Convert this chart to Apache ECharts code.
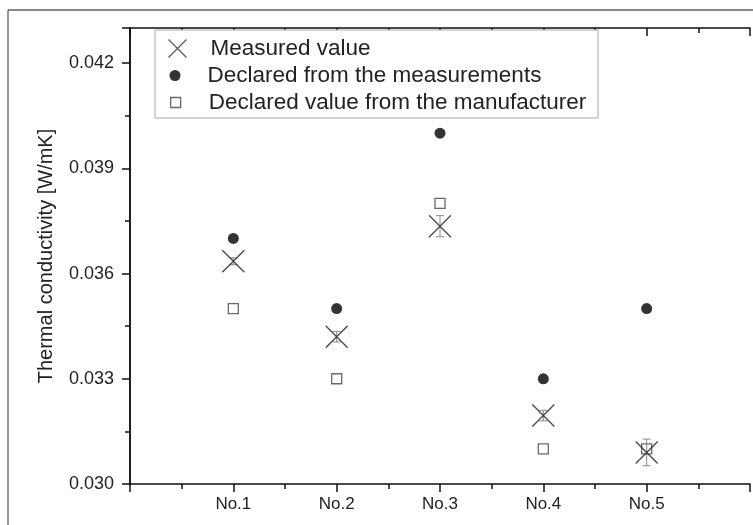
<!DOCTYPE html>
<html>
<head>
<meta charset="utf-8">
<script src="https://cdn.jsdelivr.net/npm/echarts@6/dist/echarts.min.js"></script>
<style>
html, body { margin: 0; padding: 0; background: #fff; }
#chart { width: 753px; height: 525px; }
</style>
</head>
<body>
<div id="chart"></div>
<script>
// categories on the x axis (placed at 1..5)
var categories = ['No.1', 'No.2', 'No.3', 'No.4', 'No.5'];
// measured value with its error (+/-)
var measured = [0.03635, 0.0342, 0.03735, 0.03195, 0.0309];
var measuredErr = [0.0001, 0.00015, 0.0003, 0.00015, 0.00038];
// declared from the measurements
var declaredMeas = [0.037, 0.035, 0.040, 0.033, 0.035];
// declared value from the manufacturer
var declaredManuf = [0.035, 0.033, 0.038, 0.031, 0.031];
// y axis range / ticks
var yMin = 0.030, yMax = 0.043, yStep = 0.003;

var FONT = '"Liberation Sans", Arial, sans-serif';
var xMark = 'path://M0,0L10,10M10,0L0,10';

function pts(arr) {
    var out = [];
    for (var i = 0; i < arr.length; i++) out.push([i + 1, arr[i]]);
    return out;
}
function errData() {
    var out = [];
    for (var i = 0; i < measured.length; i++) {
        out.push([i + 1, measured[i] - measuredErr[i], measured[i] + measuredErr[i]]);
    }
    return out;
}

var chart = echarts.init(document.getElementById('chart'));

var axisLine = { show: true, lineStyle: { color: '#111', width: 1.5 } };

var option = {
    backgroundColor: '#fff',
    animation: false,
    grid: { left: 130, right: 3, top: 28, bottom: 41 },
    graphic: [
        // outer frame (top + left)
        { type: 'line', z: 1, shape: { x1: 8, y1: 10, x2: 760, y2: 10 }, style: { stroke: '#888', lineWidth: 2 } },
        { type: 'line', z: 1, shape: { x1: 8, y1: 10, x2: 8, y2: 530 }, style: { stroke: '#333', lineWidth: 1 } },
        // legend box
        { type: 'rect', z: 8, shape: { x: 155, y: 30, width: 443, height: 88 }, style: { fill: '#fff', stroke: '#aaa', lineWidth: 1 } }
    ],
    legend: [
        {
            z: 10, left: 166, top: 37, padding: 0, itemWidth: 18, itemHeight: 18,
            textStyle: { fontFamily: FONT, fontSize: 22.5, color: '#222', padding: [0, 0, 0, 19] },
            data: [{ name: 'Measured value', icon: xMark, itemStyle: { color: 'none', borderColor: '#333', borderWidth: 1.3 } }]
        },
        {
            z: 10, left: 169.5, top: 64, padding: 0, itemWidth: 11, itemHeight: 11,
            textStyle: { fontFamily: FONT, fontSize: 22.5, color: '#222', padding: [0, 0, 0, 22] },
            data: [{ name: 'Declared from the measurements', icon: 'circle', itemStyle: { color: '#000' } }]
        },
        {
            z: 10, left: 170, top: 91, padding: 0, itemWidth: 10, itemHeight: 10,
            textStyle: { fontFamily: FONT, fontSize: 22.5, color: '#222', padding: [0, 0, 0, 23] },
            data: [{ name: 'Declared value from the manufacturer', icon: 'rect', itemStyle: { color: '#fff', borderColor: '#444', borderWidth: 1.3 } }]
        }
    ],
    xAxis: [
        {
            type: 'value', position: 'bottom', min: 0, max: 6, interval: 1,
            axisLine: axisLine,
            axisTick: { show: true, inside: false, length: 8, lineStyle: { color: '#111', width: 1.5 } },
            minorTick: { show: true, splitNumber: 2, length: 5, lineStyle: { color: '#111', width: 1.5 } },
            splitLine: { show: false },
            axisLabel: {
                margin: 12, fontFamily: FONT, fontSize: 17, color: '#222',
                formatter: function (v) { return categories[Math.round(v) - 1] || ''; }
            }
        },
        {
            type: 'value', position: 'top', min: 0, max: 6, interval: 1,
            axisLine: axisLine,
            axisTick: { show: true, inside: true, length: 8, lineStyle: { color: '#111', width: 1.5 } },
            minorTick: { show: true, splitNumber: 2, length: 5, lineStyle: { color: '#111', width: 1.5 } },
            splitLine: { show: false },
            axisLabel: { show: false }
        }
    ],
    yAxis: [
        {
            type: 'value', position: 'left', min: yMin, max: yMax, interval: yStep,
            name: 'Thermal conductivity [W/mK]', nameLocation: 'middle', nameGap: 74,
            nameTextStyle: { fontFamily: FONT, fontSize: 20, color: '#222' },
            axisLine: axisLine,
            axisTick: { show: true, inside: false, length: 8, lineStyle: { color: '#111', width: 1.5 } },
            minorTick: { show: true, splitNumber: 2, length: 5, lineStyle: { color: '#111', width: 1.5 } },
            splitLine: { show: false },
            axisLabel: {
                margin: 16, fontFamily: FONT, fontSize: 18, color: '#222', showMaxLabel: false,
                formatter: function (v) { return v.toFixed(3); }
            }
        },
        {
            type: 'value', position: 'right', min: yMin, max: yMax, interval: yStep,
            axisLine: axisLine,
            axisTick: { show: true, inside: true, length: 8, lineStyle: { color: '#111', width: 1.5 } },
            minorTick: { show: true, splitNumber: 2, length: 5, lineStyle: { color: '#111', width: 1.5 } },
            splitLine: { show: false },
            axisLabel: { show: false }
        }
    ],
    series: [
        {
            name: 'Declared from the measurements',
            type: 'scatter', z: 3,
            symbol: 'circle', symbolSize: 11,
            itemStyle: { color: '#000' },
            data: pts(declaredMeas)
        },
        {
            name: 'Declared value from the manufacturer',
            type: 'scatter', z: 3,
            symbol: 'rect', symbolSize: 10,
            itemStyle: { color: '#fff', borderColor: '#444', borderWidth: 1.3 },
            data: pts(declaredManuf)
        },
        {
            name: 'Measured error',
            type: 'custom', z: 4,
            renderItem: function (params, api) {
                var x = api.value(0);
                var lo = api.coord([x, api.value(1)]);
                var hi = api.coord([x, api.value(2)]);
                var cap = 4;
                var st = { stroke: '#888', lineWidth: 1 };
                return {
                    type: 'group',
                    children: [
                        { type: 'line', shape: { x1: lo[0], y1: lo[1], x2: hi[0], y2: hi[1] }, style: st },
                        { type: 'line', shape: { x1: lo[0] - cap, y1: lo[1], x2: lo[0] + cap, y2: lo[1] }, style: st },
                        { type: 'line', shape: { x1: hi[0] - cap, y1: hi[1], x2: hi[0] + cap, y2: hi[1] }, style: st }
                    ]
                };
            },
            data: errData()
        },
        {
            name: 'Measured value',
            type: 'scatter', z: 5,
            symbol: xMark, symbolSize: 22,
            itemStyle: { color: 'none', borderColor: '#222', borderWidth: 1.4 },
            data: pts(measured)
        }
    ]
};

chart.setOption(option);
</script>
</body>
</html>
